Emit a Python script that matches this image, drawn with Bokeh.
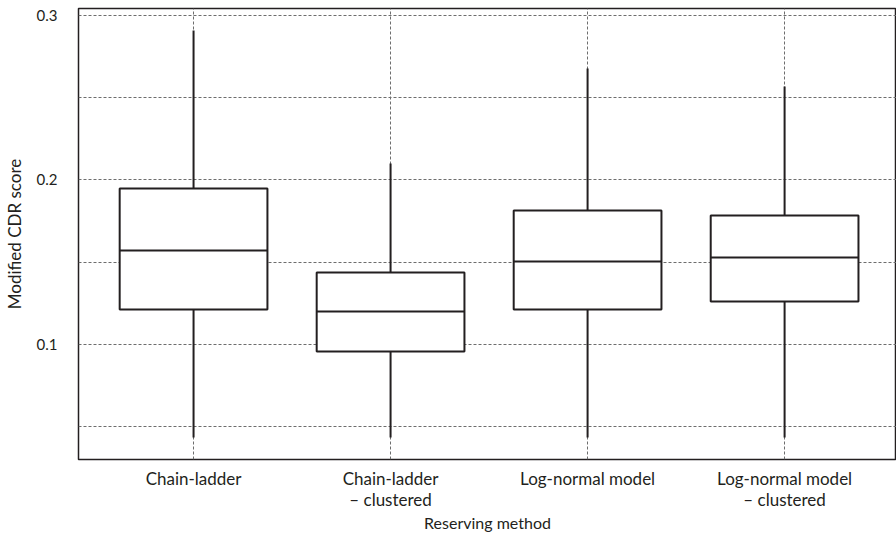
from bokeh.plotting import figure
from bokeh.models import Range1d, FixedTicker, ColumnDataSource
from bokeh.transform import dodge
from bokeh.embed import file_html
from bokeh.resources import INLINE

categories = ["Chain-ladder", "Chain-ladder\n\u2013 clustered", "Log-normal model", "Log-normal model\n\u2013 clustered"]
q1 = [0.1212, 0.0956, 0.1212, 0.1260]
median = [0.1571, 0.1200, 0.1504, 0.1528]
q3 = [0.1948, 0.1437, 0.1814, 0.1783]
whisker_low = [0.0433, 0.0433, 0.0433, 0.0433]
whisker_high = [0.2909, 0.2100, 0.2678, 0.2568]
y_major_ticks = [0.1, 0.2, 0.3]
y_minor_ticks = [0.05, 0.15, 0.25]

xs = list(range(1, len(categories) + 1))
src = ColumnDataSource(dict(x=xs, q1=q1, med=median, q3=q3, lo=whisker_low, hi=whisker_high))

FONT = "Lato"
INK = "#231f20"
BOX_W = 0.75

p = figure(width=896, height=539, output_backend="svg", toolbar_location=None,
           x_range=Range1d(0.416, 4.568), y_range=Range1d(0.0299, 0.3043),
           min_border_left=78, min_border_right=0, min_border_top=8, min_border_bottom=80)

p.background_fill_color = "white"
p.border_fill_color = "white"
p.outline_line_color = INK
p.outline_line_width = 1.5

# whiskers
p.segment(x0="x", y0="q3", x1="x", y1="hi", source=src, line_color=INK, line_width=2)
p.segment(x0="x", y0="lo", x1="x", y1="q1", source=src, line_color=INK, line_width=2)
# boxes
p.vbar(x="x", width=BOX_W, bottom="q1", top="q3", source=src, fill_color="white",
       line_color=INK, line_width=2)
# medians
p.segment(x0=dodge("x", -BOX_W / 2), y0="med", x1=dodge("x", BOX_W / 2), y1="med",
          source=src, line_color=INK, line_width=2)

# axes
xa = p.xaxis[0]
xa.ticker = FixedTicker(ticks=xs)
xa.major_label_overrides = {x: c for x, c in zip(xs, categories)}
xa.axis_label = "Reserving method"
ya = p.yaxis[0]
ya.ticker = FixedTicker(ticks=y_major_ticks, minor_ticks=y_minor_ticks)
ya.axis_label = "Modified CDR score"

for ax in (xa, ya):
    ax.axis_line_color = None
    ax.major_tick_line_color = None
    ax.minor_tick_line_color = None
    ax.major_tick_out = 0
    ax.major_tick_in = 0
    ax.major_label_text_font = FONT
    ax.major_label_text_color = INK
    ax.axis_label_text_font = FONT
    ax.axis_label_text_font_style = "normal"
    ax.axis_label_text_color = INK

xa.major_label_text_font_size = "17px"
xa.major_label_text_line_height = 1.0
xa.axis_label_text_font_size = "16px"
ya.major_label_text_font_size = "15px"
ya.axis_label_text_font_size = "17px"

xa.major_label_standoff = 8
xa.axis_label_standoff = 0
ya.major_label_standoff = 17
ya.axis_label_standoff = 9

for g in (p.xgrid, p.ygrid):
    g.grid_line_color = "#6d6d6d"
    g.grid_line_dash = "3 2"
    g.grid_line_width = 1
p.ygrid.minor_grid_line_color = "#6d6d6d"
p.ygrid.minor_grid_line_dash = "3 2"
p.ygrid.minor_grid_line_width = 1

open("out.html", "w").write(file_html(p, INLINE))
